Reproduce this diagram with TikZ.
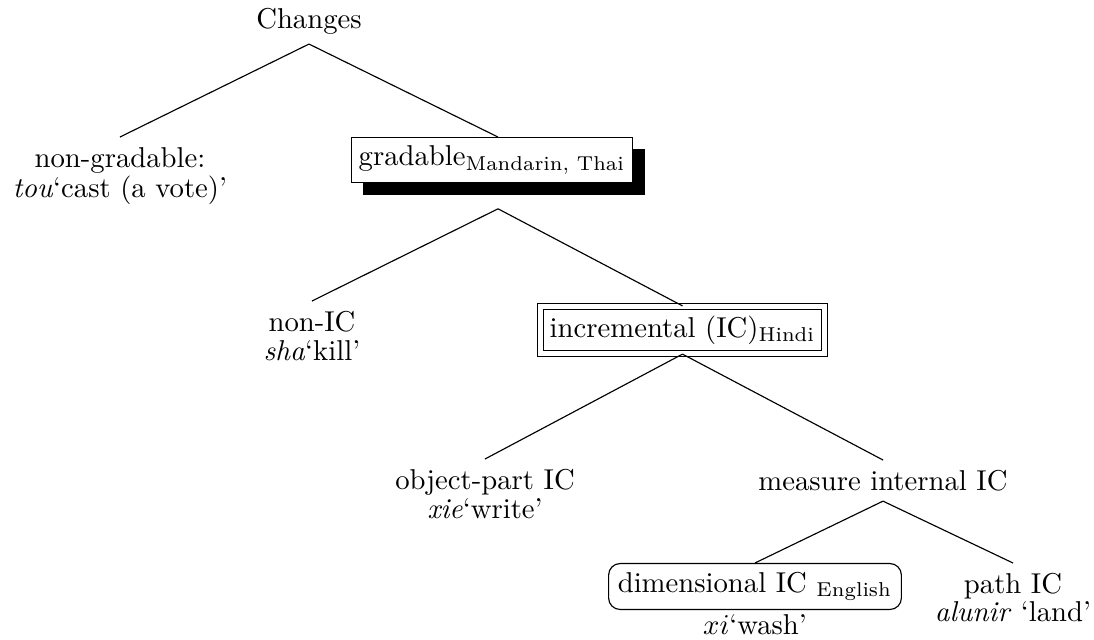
\documentclass[tikz,border=0pt]{standalone}
\usepackage{amsmath}
\usetikzlibrary{backgrounds}
\begin{document}
\begin{tikzpicture}[x=0.3484pt,y=-0.3484pt,
  every path/.style={line width=0.4pt},
  lbl/.style={inner sep=3.33pt},
  shadowbox/.style={draw, fill=white, line width=0.4pt, inner sep=0pt, minimum width=97.8pt, minimum height=15.6pt},
  dblbox/.style={draw, double, double distance=1.6pt, line width=0.4pt, inner sep=0pt, minimum width=99pt, minimum height=16.4pt},
  rndbox/.style={draw, rounded corners=4pt, line width=0.4pt, inner sep=0pt, minimum width=102pt, minimum height=16pt},
  edge/.style={draw, line width=0.4pt}]
\useasboundingbox (0,0) rectangle (1094,639);

\node[lbl, anchor=base] (root) at (309,28) {Changes};

\node[lbl, anchor=north] (ng) at (120,137) {non-gradable:};
\node[lbl, anchor=base] (ng2) at (120,197) {\textit{tou}`cast (a vote)'};

\node[shadowbox] (grad) at (492,160) {gradable$_{\text{Mandarin, Thai}}$};
\begin{scope}[on background layer]
  \fill ([shift={(4.2pt,-4.2pt)}]grad.south west) rectangle ([shift={(4.2pt,-4.2pt)}]grad.north east);
\end{scope}
\coordinate (gradin) at ([xshift=2.1pt]grad.north);
\coordinate (gradout) at ([xshift=2.1pt,yshift=-9pt]grad.south);

\node[lbl, anchor=north] (nic) at (312,301) {non-IC};
\node[lbl, anchor=base] (nic2) at (312,360) {\textit{sha}`kill'};

\node[dblbox] (inc) at (682.5,330) {incremental (IC)$_{\text{Hindi}}$};

\node[lbl, anchor=north] (op) at (485,459) {object-part IC};
\node[lbl, anchor=base] (op2) at (485,518) {\textit{xie}`write'};

\node[lbl, anchor=north] (mi) at (883,460) {measure internal IC};

\node[rndbox] (dim) at (755,586.5) {dimensional IC $_{\text{English}}$};
\node[lbl, anchor=base] (dim2) at (755,634) {$xi$`wash'};

\node[lbl, anchor=north] (pic) at (1013,563) {path IC};
\node[lbl, anchor=base] (pic2) at (1013,621) {\textit{alunir} `land'};

\path[edge] (root.south) -- (ng.north);
\path[edge] (root.south) -- (gradin);
\path[edge] (gradout) -- (nic.north);
\path[edge] (gradout) -- (inc.north);
\path[edge] (inc.south) -- (op.north);
\path[edge] (inc.south) -- (mi.north);
\path[edge] (mi.south) -- (dim.north);
\path[edge] (mi.south) -- (pic.north);
\end{tikzpicture}
\end{document}
